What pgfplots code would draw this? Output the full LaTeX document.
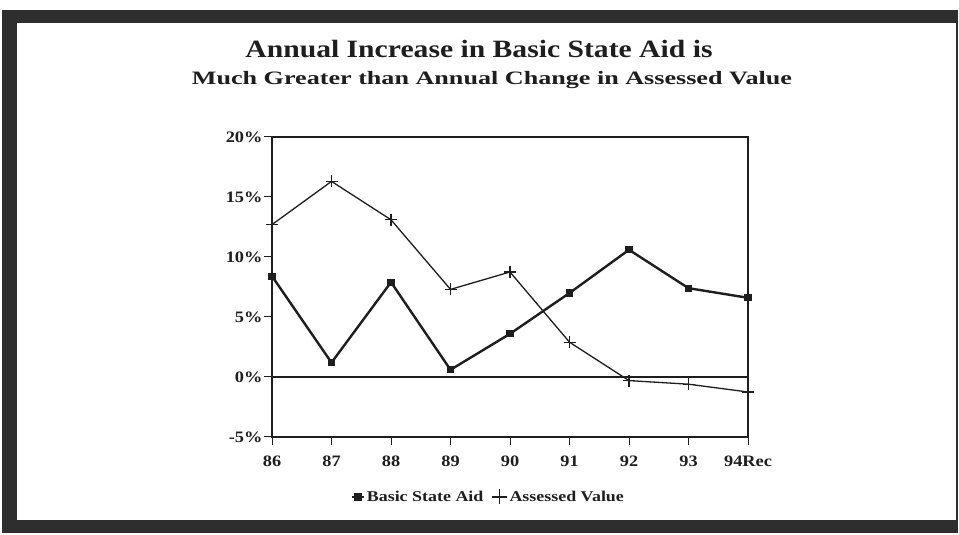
\documentclass[border=0pt]{standalone}
\usepackage{pgfplots}
\pgfplotsset{compat=1.18}
\usepackage{fontspec}
\setmainfont{Liberation Serif}
% widened faces for the headings, ticks and key
\newfontfamily\headA[FakeStretch=1.19]{Liberation Serif}
\newfontfamily\headB[FakeStretch=1.38]{Liberation Serif}
\newfontfamily\tickfont[FakeStretch=1.15]{Liberation Serif}
\newfontfamily\keyfont[FakeStretch=1.2]{Liberation Serif}
\definecolor{ink}{HTML}{1E1E1E}
\definecolor{frame}{HTML}{2E2E2E}
\begin{document}
\begin{tikzpicture}[x=1bp,y=1bp]
\useasboundingbox (0,0) rectangle (959,535);
% heavy border round the panel
\fill[frame] (2,2) rectangle (958,525);
\fill[white] (17,15) rectangle (956,512);
% titles
\node[font=\headA\fontsize{25}{27}\selectfont\bfseries, text=ink] at (479,486) {Annual Increase in Basic State Aid is};
\node[font=\headB\fontsize{19}{21}\selectfont\bfseries, text=ink] at (492,455) {Much Greater than Annual Change in Assessed Value};
\begin{axis}[
  at={(272bp,98bp)}, anchor=south west,
  scale only axis, width=476bp, height=300bp,
  xmin=86, xmax=94, ymin=-5, ymax=20,
  xtick={86,...,94},
  xticklabels={86,87,88,89,90,91,92,93,94Rec},
  ytick={-5,0,5,10,15,20},
  yticklabel={\pgfmathprintnumber{\tick}\%},
  /pgf/number format/assume math mode=true,
  ticklabel style={font=\tickfont\fontsize{16}{18}\selectfont\bfseries, text=ink},
  yticklabel style={xshift=2bp},
  xticklabel style={yshift=-7bp},
  tick align=outside,
  major tick length=8bp,
  xtick pos=bottom, ytick pos=left,
  axis line style={ink, line width=1.1bp},
  tick style={ink, line width=1bp},
  extra y ticks={0},
  extra y tick labels={},
  extra y tick style={grid=major, major grid style={ink, line width=1.1bp}, major tick length=0pt},
  clip=false,
  legend columns=2,
  legend style={at={(0.455,-0.2)}, anchor=center, draw=none, fill=none,
    font=\keyfont\fontsize{15}{17}\selectfont\bfseries, text=ink,
    inner sep=0pt,
    /tikz/every even column/.append style={column sep=6bp}},
  legend cell align=left,
]
\addplot[ink, line width=2.4bp, mark=square*, mark size=2.4bp,
  mark options={solid},
  legend image code/.code={\draw[ink, line width=1.6bp] (0bp,0bp) -- (12bp,0bp);
    \fill[ink] (3.5bp,-2.5bp) rectangle (8.5bp,2.5bp);}]
  coordinates {(86,8.4) (87,1.2) (88,7.9) (89,0.6) (90,3.6) (91,7.0) (92,10.6) (93,7.4) (94,6.6)};
\addlegendentry{Basic State Aid}
\addplot[ink, line width=1.3bp, mark=+, mark size=6bp,
  mark options={line width=1.1bp},
  legend image code/.code={\draw[ink, line width=1.1bp] (0bp,0bp) -- (15bp,0bp) (7.5bp,-7.5bp) -- (7.5bp,7.5bp);}]
  coordinates {(86,12.7) (87,16.3) (88,13.1) (89,7.3) (90,8.75) (91,2.9) (92,-0.3) (93,-0.6) (94,-1.25)};
\addlegendentry{Assessed Value}
\end{axis}
\end{tikzpicture}
\end{document}
